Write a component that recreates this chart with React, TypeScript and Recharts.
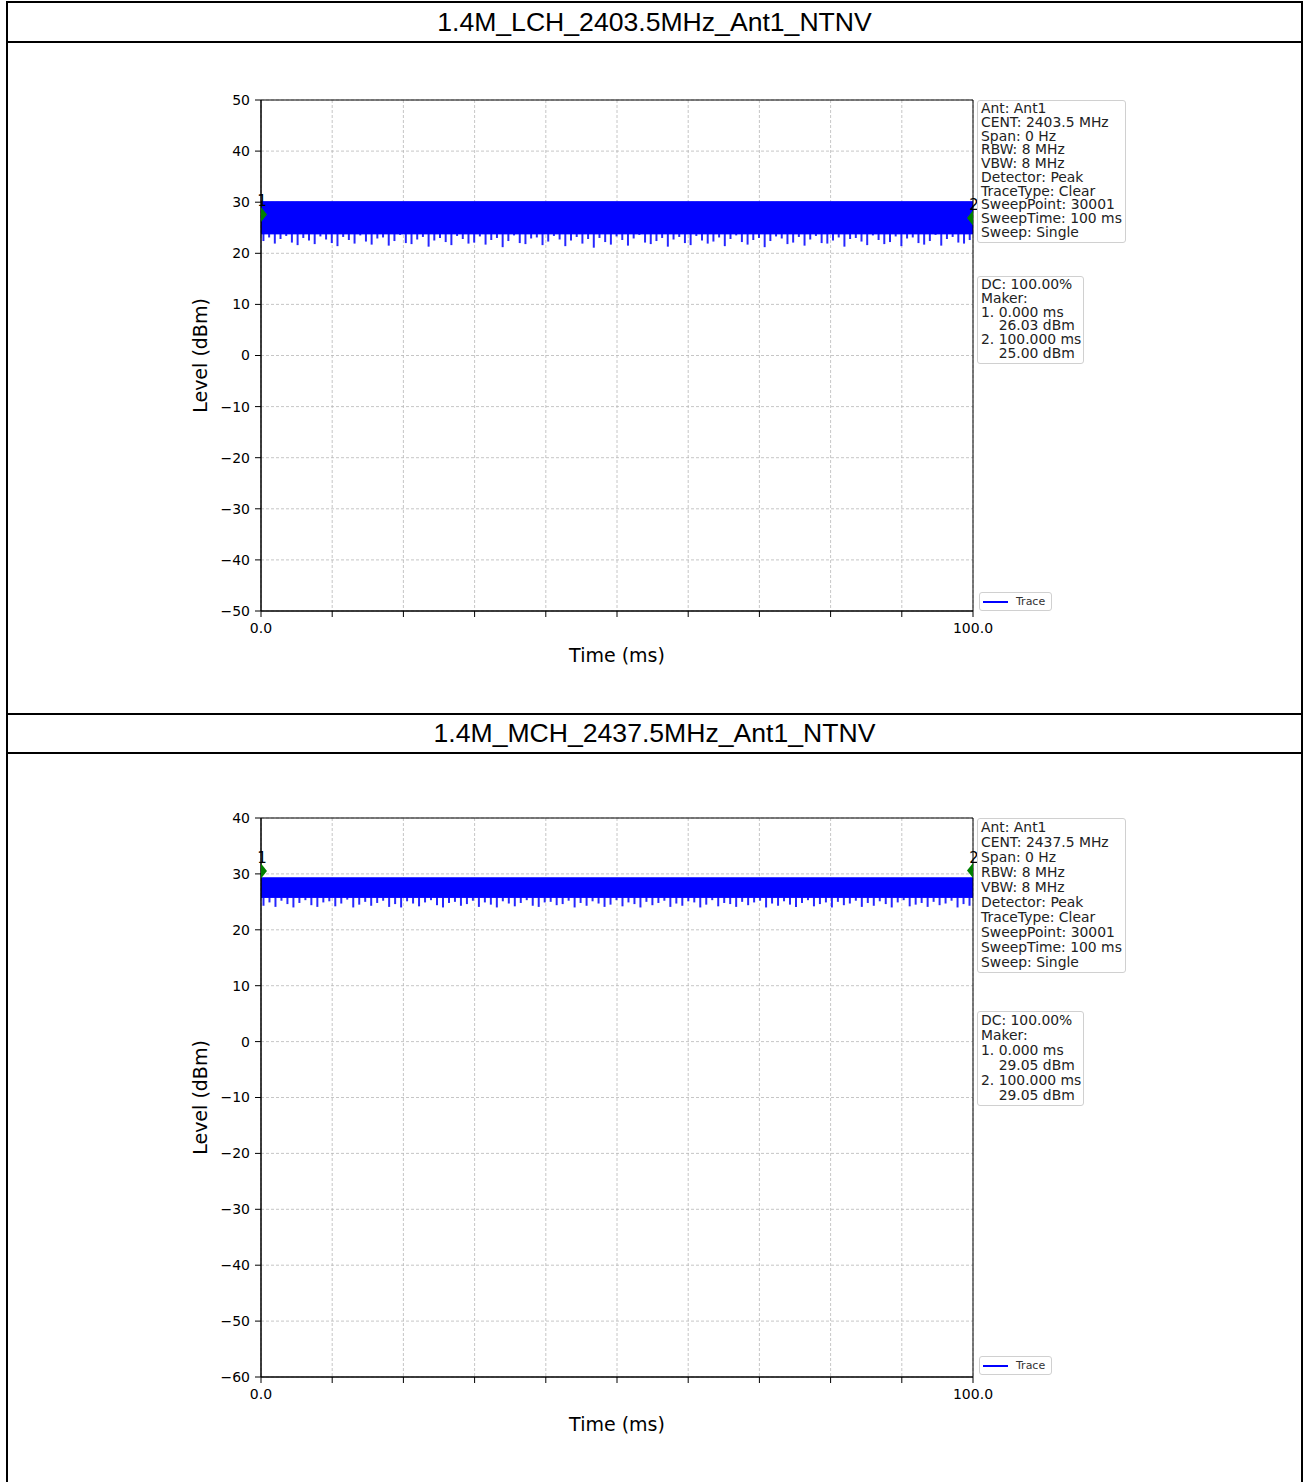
import React from 'react';
import {
  ComposedChart,
  XAxis,
  YAxis,
  CartesianGrid,
  Area,
  Bar,
  Scatter,
  ReferenceArea,
  Label,
} from 'recharts';

// ---------- shared ----------
const xTicks = [0, 10, 20, 30, 40, 50, 60, 70, 80, 90, 100];
const xTickLabels = ['0.0', '', '', '', '', '', '', '', '', '', '100.0'];

// ---------- panel 1 : LCH ----------
const lchTitle = '1.4M_LCH_2403.5MHz_Ant1_NTNV';
const lchYTicks = [-50, -40, -30, -20, -10, 0, 10, 20, 30, 40, 50];
const lchBand = [
  { t: 0, band: [23.8, 30.1] },
  { t: 100, band: [23.8, 30.1] },
];
const lchDips = [
  22.4, 23.1, 21.9, 22.8, 23.4, 22.1, 21.6, 23.0, 22.5, 21.8, 23.3, 22.7, 22.0, 21.4, 23.2, 22.6,
  21.9, 23.5, 22.3, 21.7, 22.9, 23.1, 21.5, 22.4, 23.6, 22.0, 21.8, 22.7, 23.2, 21.3, 22.5, 23.0,
  22.2, 21.6, 23.4, 22.8, 21.9, 22.1, 23.3, 21.7, 22.6, 23.0, 21.2, 22.4, 23.5, 22.0, 21.8, 22.9,
  23.1, 21.6, 22.3, 23.4, 22.7, 21.4, 22.5, 23.2, 21.9, 22.8, 21.1, 23.0, 22.2, 21.7, 23.3, 22.6,
  21.5, 22.9, 23.6, 22.1, 21.8, 22.4, 23.0, 21.3, 22.7, 23.2, 22.0, 21.6, 23.4, 22.5, 21.9, 22.3,
  23.1, 21.4, 22.8, 23.5, 22.2, 21.7, 22.6, 23.0, 21.2, 22.4, 23.3, 22.9, 21.8, 22.1, 23.2, 21.5,
  22.7, 23.4, 22.0, 21.9, 22.5, 23.1, 21.3, 22.8, 23.0, 22.3, 21.6, 23.5, 22.6, 21.8, 22.2, 23.3,
  21.4, 22.9, 23.1, 22.0, 21.7, 22.4, 23.6, 21.5, 22.8, 23.2, 22.1, 21.9, 22.6,
];
const lchMarkers = [
  { t: 0, v: 27.6, name: '1' },
  { t: 100, v: 26.9, name: '2' },
];
const lchInfo = [
  'Ant: Ant1',
  'CENT: 2403.5 MHz',
  'Span: 0 Hz',
  'RBW: 8 MHz',
  'VBW: 8 MHz',
  'Detector: Peak',
  'TraceType: Clear',
  'SweepPoint: 30001',
  'SweepTime: 100 ms',
  'Sweep: Single',
];
const lchMaker = ['DC: 100.00%', 'Maker:', '1. 0.000 ms', '    26.03 dBm', '2. 100.000 ms', '    25.00 dBm'];

// ---------- panel 2 : MCH ----------
const mchTitle = '1.4M_MCH_2437.5MHz_Ant1_NTNV';
const mchYTicks = [-60, -50, -40, -30, -20, -10, 0, 10, 20, 30, 40];
const mchBand = [
  { t: 0, band: [25.8, 29.3] },
  { t: 100, band: [25.8, 29.3] },
];
const mchDips = [
  24.3, 24.9, 24.1, 25.2, 24.6, 24.0, 24.8, 25.3, 24.4, 24.1, 24.9, 25.1, 24.2, 24.7, 25.4, 24.0,
  24.5, 25.0, 24.3, 24.8, 25.2, 24.1, 24.6, 24.0, 25.1, 24.7, 24.2, 24.9, 25.3, 24.4, 24.0, 24.8,
  25.0, 24.3, 24.6, 25.2, 24.1, 24.9, 24.5, 24.0, 25.1, 24.7, 24.2, 24.8, 25.3, 24.3, 24.1, 24.9,
  25.0, 24.4, 24.6, 25.2, 24.0, 24.8, 24.3, 25.1, 24.7, 24.1, 24.5, 25.3, 24.2, 24.9, 24.6, 24.0,
  25.0, 24.4, 24.8, 25.2, 24.1, 24.7, 24.3, 25.1, 24.9, 24.0, 24.5, 25.3, 24.2, 24.8, 24.6, 24.1,
  25.0, 24.4, 24.9, 25.2, 24.0, 24.7, 24.3, 25.1, 24.5, 24.1, 24.8, 25.3, 24.2, 24.6, 24.9, 24.0,
  25.0, 24.4, 24.7, 25.2, 24.1, 24.8, 24.3, 25.1, 24.6, 24.0, 24.9, 25.3, 24.2, 24.5, 24.8, 24.1,
  25.0, 24.4, 24.7, 25.2, 24.0, 24.6, 24.3,
];
const mchMarkers = [
  { t: 0, v: 30.5, name: '1' },
  { t: 100, v: 30.6, name: '2' },
];
const mchInfo = [
  'Ant: Ant1',
  'CENT: 2437.5 MHz',
  'Span: 0 Hz',
  'RBW: 8 MHz',
  'VBW: 8 MHz',
  'Detector: Peak',
  'TraceType: Clear',
  'SweepPoint: 30001',
  'SweepTime: 100 ms',
  'Sweep: Single',
];
const mchMaker = ['DC: 100.00%', 'Maker:', '1. 0.000 ms', '    29.05 dBm', '2. 100.000 ms', '    29.05 dBm'];

// ---------- components ----------
const TICK_FONT = 'DejaVu Sans, sans-serif';
const BLUE = '#0000ff';

function MarkerShape(props: any) {
  const { cx, cy, payload } = props;
  if (cx == null || cy == null) return null;
  const right = payload.t === 0;
  const pts = right
    ? `${cx},${cy - 7.5} ${cx + 6},${cy} ${cx},${cy + 7.5}`
    : `${cx},${cy - 7.5} ${cx - 6},${cy} ${cx},${cy + 7.5}`;
  return (
    <g>
      <polygon points={pts} fill="#008000" />
      <text
        x={cx + 1}
        y={cy - 13}
        textAnchor="middle"
        dominantBaseline="central"
        fontSize={15}
        fontFamily={TICK_FONT}
        fill="#000"
      >
        {payload.name}
      </text>
    </g>
  );
}

function InfoBox({ lines, left, top, width, lineH }: any) {
  return (
    <div
      style={{
        position: 'absolute',
        left,
        top,
        width,
        boxSizing: 'border-box',
        border: '1px solid #d0d0d0',
        borderRadius: 3,
        background: 'rgba(255,255,255,0.85)',
        padding: '1px 3px 2px 3px',
        fontFamily: TICK_FONT,
        fontSize: 13.9,
        lineHeight: `${lineH}px`,
        color: '#222',
        whiteSpace: 'pre',
      }}
    >
      {lines.map((l: string, i: number) => (
        <div key={i}>{l}</div>
      ))}
    </div>
  );
}

function TraceLegend({ left, top }: any) {
  return (
    <div
      style={{
        position: 'absolute',
        left,
        top,
        width: 73,
        height: 19,
        boxSizing: 'border-box',
        border: '1px solid #d0d0d0',
        borderRadius: 3,
        background: '#fff',
        fontFamily: TICK_FONT,
        fontSize: 11,
        color: '#333',
      }}
    >
      <div style={{ position: 'absolute', left: 3, top: 8, width: 25, height: 1.5, background: BLUE }} />
      <div style={{ position: 'absolute', left: 36, top: 1, lineHeight: '15px' }}>Trace</div>
    </div>
  );
}

function Panel(p: any) {
  const spikeRows = p.dips.map((d: number, i: number) => ({
    t: ((i + 0.5) * 100) / p.dips.length,
    spike: [d, p.band[0].band[0]],
  }));
  const yMin = p.yTicks[0];
  const yMax = p.yTicks[p.yTicks.length - 1];
  const fmtY = (v: number) => String(v).replace('-', '\u2212');
  const fmtX = (v: number) => xTickLabels[xTicks.indexOf(v)] ?? '';
  return (
    <div style={{ position: 'absolute', left: 0, top: p.top, width: 1308, height: p.height }}>
      <ComposedChart
        width={1308}
        height={p.height}
        data={spikeRows}
        margin={{ top: p.mTop, right: 335, bottom: p.mBottom, left: 201 }}
      >
        <CartesianGrid stroke="#b8b8b8" strokeDasharray="3 2" strokeWidth={0.8} />
        <XAxis
          type="number"
          dataKey="t"
          domain={[0, 100]}
          ticks={xTicks}
          interval={0}
          tickFormatter={fmtX}
          height={30}
          tickSize={6}
          tickMargin={6}
          stroke="#000"
          tick={{ fill: '#000', fontSize: 14, fontFamily: TICK_FONT }}
        >
          <Label
            content={(lp: any) => {
              const vb = lp.viewBox;
              return (
                <text
                  x={vb.x + vb.width / 2}
                  y={vb.y + p.xLabelOff}
                  textAnchor="middle"
                  dominantBaseline="central"
                  fontSize={19}
                  fontFamily={TICK_FONT}
                  fill="#000"
                >
                  Time (ms)
                </text>
              );
            }}
          />
        </XAxis>
        <YAxis
          type="number"
          domain={[yMin, yMax]}
          ticks={p.yTicks}
          interval={0}
          width={60}
          tickSize={6}
          tickMargin={5}
          tickFormatter={fmtY}
          stroke="#000"
          tick={{ fill: '#000', fontSize: 14, fontFamily: TICK_FONT }}
        >
          <Label
            content={(lp: any) => {
              const vb = lp.viewBox;
              const cx = vb.x - 1;
              const cy = vb.y + vb.height / 2;
              return (
                <text
                  x={cx}
                  y={cy}
                  transform={`rotate(-90 ${cx} ${cy})`}
                  textAnchor="middle"
                  dominantBaseline="central"
                  fontSize={19}
                  fontFamily={TICK_FONT}
                  fill="#000"
                >
                  Level (dBm)
                </text>
              );
            }}
          />
        </YAxis>
        <Area
          data={p.band}
          dataKey="band"
          type="linear"
          fill={BLUE}
          fillOpacity={1}
          stroke={BLUE}
          strokeWidth={1}
          isAnimationActive={false}
          dot={false}
          activeDot={false}
        />
        <Bar dataKey="spike" fill={BLUE} fillOpacity={0.85} barSize={2} isAnimationActive={false} />
        <ReferenceArea x1={0} x2={100} y1={yMin} y2={yMax} fill="none" stroke="#000" strokeWidth={1} />
        <Scatter data={p.markers} dataKey="v" shape={MarkerShape} isAnimationActive={false} />
      </ComposedChart>
      <InfoBox lines={p.info} left={977} top={p.infoTop} width={149} lineH={p.lineH} />
      <InfoBox lines={p.maker} left={977} top={p.makerTop} width={107} lineH={p.lineH} />
      <TraceLegend left={979} top={p.legendTop} />
    </div>
  );
}

const titleStyle: React.CSSProperties = {
  position: 'absolute',
  left: 6,
  width: 1297,
  boxSizing: 'border-box',
  border: '2px solid #000',
  display: 'flex',
  alignItems: 'center',
  justifyContent: 'center',
  fontFamily: 'Liberation Sans, Arial, sans-serif',
  fontSize: 26.6,
  color: '#000',
};

export default function App() {
  return (
    <div
      style={{
        position: 'absolute',
        left: 0,
        top: 0,
        width: 1308,
        height: 1482,
        background: '#fff',
        overflow: 'hidden',
      }}
    >
      <div style={{ ...titleStyle, top: 41, height: 674 }} />
      <div style={{ ...titleStyle, top: 752, height: 760 }} />
      <div style={{ ...titleStyle, top: 1, height: 42 }}>{lchTitle}</div>
      <div style={{ ...titleStyle, top: 713, height: 41 }}>{mchTitle}</div>
      <Panel
        top={43}
        height={670}
        mTop={57}
        mBottom={72}
        xLabelOff={44}
        yTicks={lchYTicks}
        band={lchBand}
        dips={lchDips}
        markers={lchMarkers}
        info={lchInfo}
        maker={lchMaker}
        lineH={13.75}
        infoTop={57}
        makerTop={233}
        legendTop={549}
      />
      <Panel
        top={754}
        height={728}
        mTop={64}
        mBottom={75}
        xLabelOff={47}
        yTicks={mchYTicks}
        band={mchBand}
        dips={mchDips}
        markers={mchMarkers}
        info={mchInfo}
        maker={mchMaker}
        lineH={15}
        infoTop={64}
        makerTop={257}
        legendTop={602}
      />
    </div>
  );
}
